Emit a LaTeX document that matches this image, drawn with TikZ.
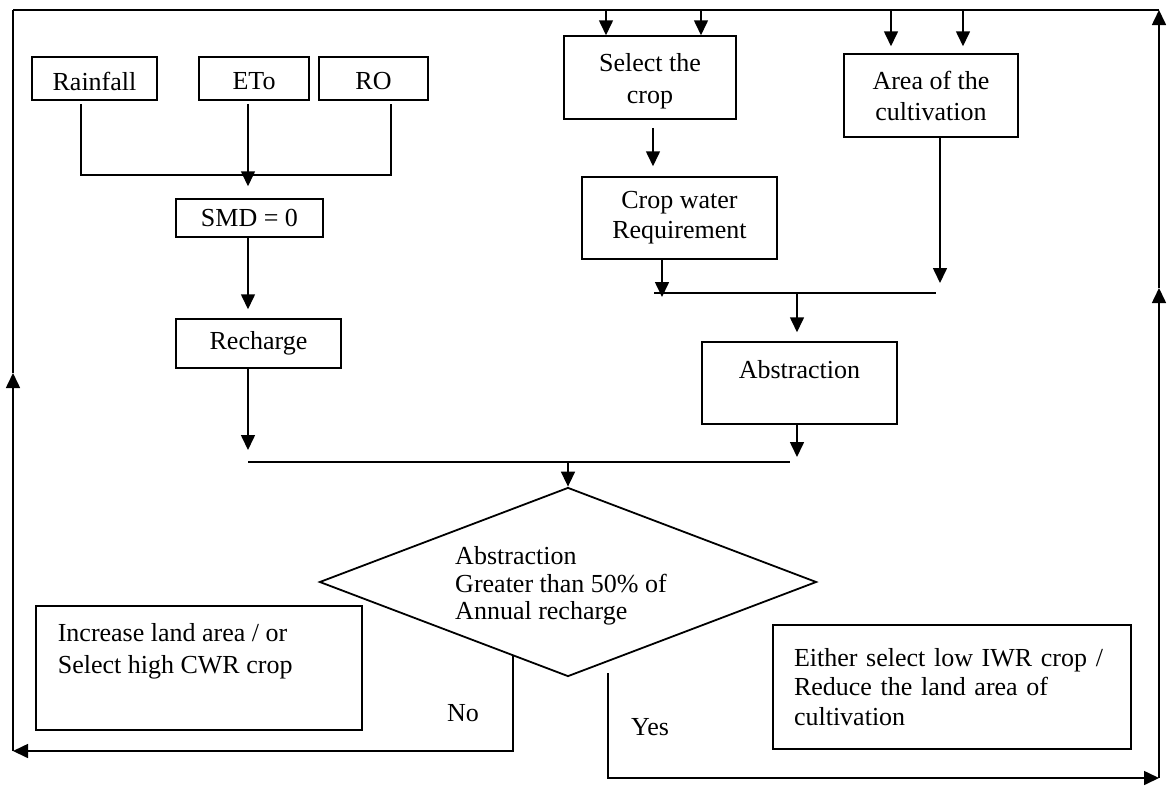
\documentclass[tikz,border=0pt]{standalone}
\usepackage{fontspec}
\setmainfont{Liberation Serif}
\usetikzlibrary{arrows.meta,shapes.geometric,calc}
\begin{document}
\begin{tikzpicture}[x=1pt,y=-1pt,
  line width=1.6pt,
  box/.style={draw, line width=1.5pt, inner sep=0pt, align=center, font=\fontsize{26}{31}\selectfont},
  lbl/.style={inner sep=0pt, font=\fontsize{26}{31}\selectfont},
  arr/.style={-{Triangle[length=15pt,width=14pt]}},
]
\useasboundingbox (0,0) rectangle (1168,793);
\fill[white] (0,0) rectangle (1168,793);

% boxes
\node[box, minimum width=125pt, minimum height=43pt] (rain) at (94.5,78.5) {\raisebox{-3pt}[\height][\depth]{Rainfall}};
\node[box, minimum width=110pt, minimum height=43pt] (eto) at (254,78.5) {\raisebox{-3pt}[\height][\depth]{ETo}};
\node[box, minimum width=109pt, minimum height=43pt] (ro) at (373.5,78.5) {\raisebox{-3pt}[\height][\depth]{RO}};
\node[box, minimum width=147pt, minimum height=38pt] (smd) at (249.5,218) {SMD = 0};
\node[box, minimum width=165pt, minimum height=49pt] (rech) at (258.5,343.5) {Recharge};
\node[box, minimum width=172pt, minimum height=83pt, font=\fontsize{26}{32}\selectfont] (sel) at (650,77.5) {\rule{0pt}{26pt}Select the\\crop};
\node[box, minimum width=195pt, minimum height=82pt, font=\fontsize{26}{30}\selectfont] (cwr) at (679.5,218) {Crop water\\Requirement};
\node[box, minimum width=174pt, minimum height=83pt] (area) at (931,95.5) {Area of the\\cultivation};
\node[box, minimum width=195pt, minimum height=82pt] (abs) at (799.5,383) {\raisebox{13pt}[\height][\depth]{Abstraction}};
\node[diamond, draw, line width=1.8pt, inner sep=0pt, shape aspect=2.63,
      minimum width=497pt, minimum height=189pt] (dia) at (568,582) {};
\node[lbl, align=left, font=\fontsize{26}{27.5}\selectfont] (diat) at (561,586)
      {Abstraction\\Greater than 50\% of\\Annual recharge};
\node[box, minimum width=326pt, minimum height=124pt] (inc) at (199,668) {};
\node[lbl, anchor=west, align=left, font=\fontsize{26}{32}\selectfont] (inct) at (57,651)
      {Increase land area / or\\Select high CWR crop};
\node[box, minimum height=124pt, text width=316pt, inner xsep=21pt, align=left,
      font=\fontsize{26}{29.5}\selectfont] (either) at (952,687)
      {Either select low IWR crop /\\Reduce the land area of\\cultivation};

% labels
\node[lbl] (no) at (463,713) {No};
\node[lbl] (yes) at (650,727) {Yes};

% frame coordinates
\coordinate (tl) at (13,10);
\coordinate (tr) at (1159,10);
\coordinate (bl) at (13,751);
\coordinate (br) at (1159,778);
\coordinate (lmid) at (13,373);
\coordinate (rmid) at (1159,288);

% outer loop
\draw (tl) -- (tr);
\draw[arr] (bl) -- (lmid);
\draw (lmid) -- (tl);
\draw[arr] (br) -- (rmid);
\draw[arr] (rmid) -- (tr);

% top arrows into boxes
\coordinate (t1) at (606,10);
\coordinate (t2) at (701,10);
\coordinate (t3) at (891,10);
\coordinate (t4) at (963,10);
\draw[arr] (t1) -- (sel.north -| t1);
\draw[arr] (t2) -- (sel.north -| t2);
\draw[arr, shorten >=7pt] (t3) -- (area.north -| t3);
\draw[arr, shorten >=7pt] (t4) -- (area.north -| t4);

% left branch
\coordinate (j1) at (81,175);
\coordinate (j2) at (391,175);
\coordinate (c1) at (248,462);
\coordinate (c2) at (797,462);
\draw[shorten <=3pt, shorten >=3pt] (rain.south -| j1) -- (j1) -- (j2) -- (ro.south -| j2);
\draw[arr, shorten <=3pt, shorten >=12pt] (eto.south -| c1) -- (smd.north -| c1);
\draw[arr, shorten >=9pt] (smd.south -| c1) -- (rech.north -| c1);
\draw[arr, shorten >=12pt] (rech.south -| c1) -- (c1);
\draw (c1) -- ([xshift=-7pt]c2);
\draw[arr, shorten >=5pt] (abs.south -| c2) -- (c2);
\draw[arr] (dia.north |- c1) -- (dia.north);

% right branch
\coordinate (c3) at (797,293);
\coordinate (c4) at (654,293);
\coordinate (c5) at (936,293);
\coordinate (c6) at (662,293);
\coordinate (c7) at (940,293);
\coordinate (c8) at (653,0);
\draw[arr, shorten <=8pt, shorten >=10pt] (sel.south -| c8) -- (cwr.north -| c8);
\draw (c4) -- (c5);
\draw[arr, shorten >=-4pt] (cwr.south -| c6) -- (c6);
\draw[arr, shorten >=10pt] (area.south -| c7) -- (c7);
\draw[arr, shorten >=9pt] (c3) -- (abs.north -| c3);

% decision outputs
\draw[arr] ($(dia.west)!0.78!(dia.south)$) |- (bl);
\draw[arr, shorten <=11pt] ($(dia.south)!0.16!(dia.east)$) |- (br);
\end{tikzpicture}
\end{document}
